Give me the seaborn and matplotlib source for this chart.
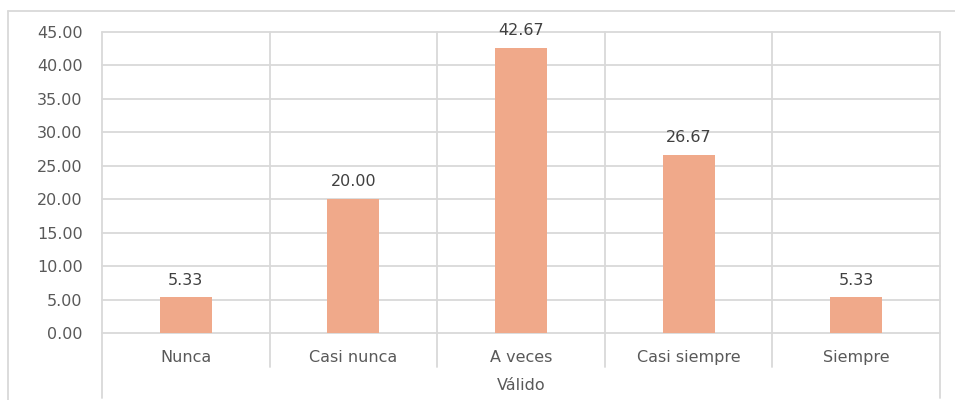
import matplotlib
matplotlib.use("Agg")
import matplotlib.pyplot as plt
import matplotlib.transforms as mtransforms
from matplotlib.lines import Line2D
import seaborn as sns
import pandas as pd

categories = ["Nunca", "Casi nunca", "A veces", "Casi siempre", "Siempre"]
values = [5.33, 20.00, 42.67, 26.67, 5.33]
group_label = "Válido"
yticks = [0, 5, 10, 15, 20, 25, 30, 35, 40, 45]

sns.set_theme(style="white")
plt.rcParams['font.family'] = ['DejaVu Sans']

GRID = "#D9D9D9"
TXT = "#595959"
BAR = "#F0A98A"
FS = 11.5

fig = plt.figure(figsize=(9.55, 4.0), dpi=100)
ax = fig.add_axes([102/955, 67/400, (940-102)/955, 301/400])

df = pd.DataFrame({"cat": categories, "val": values})
sns.barplot(data=df, x="cat", y="val", color=BAR, saturation=1, width=0.31, ax=ax,
            zorder=3, linewidth=0, edgecolor="none")

ax.set_ylim(0, 45)
ax.set_xlim(-0.5, len(categories) - 0.5)
ax.set_yticks(yticks)
ax.set_yticklabels([f"{v:.2f}" for v in yticks], color=TXT, fontsize=FS)
ax.set_xticks(range(len(categories)))
ax.set_xticklabels(categories, color=TXT, fontsize=FS)
ax.tick_params(axis="y", length=0, pad=14)
ax.tick_params(axis="x", length=0, pad=12)
ax.set_xlabel("")
ax.set_ylabel("")
for s in ax.spines.values():
    s.set_visible(False)

for y in yticks:
    ax.axhline(y, color=GRID, lw=1.3, zorder=1, clip_on=False)

trans = mtransforms.blended_transform_factory(ax.transData, ax.transAxes)
n = len(categories)
for i in range(n + 1):
    x = i - 0.5
    ybot = -0.216 if i in (0, n) else -0.113
    ax.add_line(Line2D([x, x], [ybot, 1.0], transform=trans, color=GRID, lw=1.3,
                       clip_on=False, zorder=1))

for i, v in enumerate(values):
    ax.annotate(f"{v:.2f}", (i, v), xytext=(0, 7), textcoords="offset points",
                ha="center", va="bottom", color="#404040", fontsize=FS, zorder=4)

ax.text(0.5, -0.173, group_label, transform=ax.transAxes, ha="center", va="center",
        color=TXT, fontsize=FS)

# outer chart frame (left and top edges visible)
fig.add_artist(Line2D([8/955, 8/955], [0, 1 - 11/400], transform=fig.transFigure,
                      color=GRID, lw=1.3))
fig.add_artist(Line2D([8/955, 1], [1 - 11/400, 1 - 11/400], transform=fig.transFigure,
                      color=GRID, lw=1.3))

fig.savefig("out.png", dpi=100)
